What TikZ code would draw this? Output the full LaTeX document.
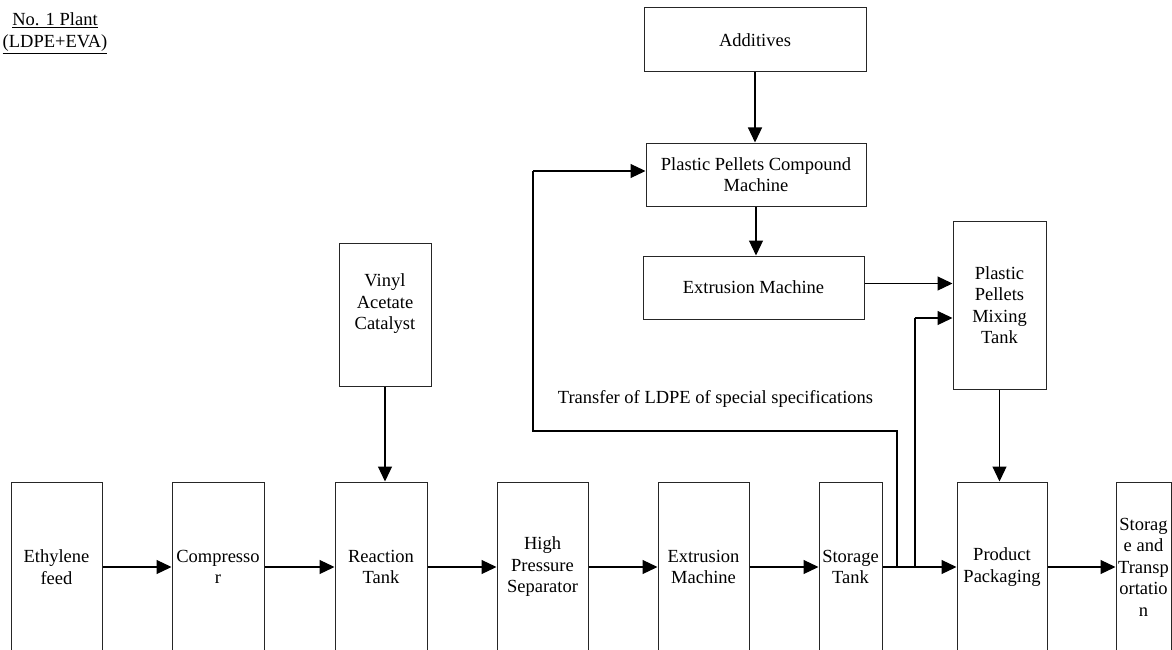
\documentclass[tikz,border=0pt]{standalone}
\usepackage{fontspec}
\setmainfont{Liberation Serif}
\usetikzlibrary{arrows.meta}
\begin{document}
\begin{tikzpicture}[x=1pt,y=-1pt,
  box/.style={draw=black!85, line width=1pt, inner sep=0pt, align=center,
    font=\fontsize{18.5}{21.5}\selectfont},
  tallbox/.style={box, minimum height=170pt},
  txt/.style={inner sep=0pt, align=center, font=\fontsize{18.5}{21.5}\selectfont},
  flow/.style={line width=1.2pt, -{Triangle[length=15pt,width=14pt]}},
  heavy/.style={line width=2pt}
]
\useasboundingbox (0,0) rectangle (1172,650);

% plant title
\node[txt, font=\fontsize{18.5}{22}\selectfont] (title) at (55,33)
  {\underline{No. 1 Plant}\\\underline{(LDPE+EVA)}};

% main production line
\node[tallbox, minimum width=91pt] (eth)   at (56.5,567)  {Ethylene\\feed};
\node[tallbox, minimum width=92pt] (comp)  at (218,567)   {Compresso\\r};
\node[tallbox, minimum width=92pt] (react) at (381,567)   {Reaction\\Tank};
\node[tallbox, minimum width=91pt] (hps)   at (542.5,567) {High\\Pressure\\Separator};
\node[tallbox, minimum width=91pt] (extr)  at (703.5,567) {Extrusion\\Machine};
\node[tallbox, minimum width=63pt] (stor)  at (850.5,567) {Storage\\Tank};
\node[tallbox, minimum width=90pt] (pack)  at (1002,567)  {Product\\Packaging};
\node[tallbox, minimum width=55pt] (trans) at (1143.5,567) {Storag\\e and\\Transp\\ortatio\\n};

% catalyst feed
\node[box, minimum width=92pt, minimum height=143pt] (vin) at (385,314.5) {};
\node[txt] (vintxt) at (385,304) {Vinyl\\Acetate\\Catalyst};

% compounding branch
\node[box, minimum width=222pt, minimum height=64pt] (add)  at (755,40)    {Additives};
\node[box, minimum width=220pt, minimum height=63pt] (cpd)  at (756,174.5) {Plastic Pellets Compound\\Machine};
\node[box, minimum width=221pt, minimum height=63pt] (ext2) at (753.5,287.5) {Extrusion Machine};
\node[box, minimum width=93pt, minimum height=168pt] (mix)  at (999.5,305) {Plastic\\Pellets\\Mixing\\Tank};

\node[txt] (note) at (715.5,399) {Transfer of LDPE of special specifications};

% main line connectors
\draw[flow] (eth)  -- (comp);
\draw[flow] (comp) -- (react);
\draw[flow] (react) -- (hps);
\draw[flow] (hps)  -- (extr);
\draw[flow] (extr) -- (stor);
\draw[flow] (stor) -- (pack);
\draw[flow] (pack) -- (trans);

\draw[flow] (vin.south) -- (vin.south |- react.north);
\draw[flow] (add.south) -- (add.south |- cpd.north);
\draw[flow] (cpd.south) -- (cpd.south |- ext2.north);
\draw[flow] ([yshift=4pt]ext2.east) -- ([yshift=4pt]ext2.east -| mix.west);
\draw[flow] (mix.south) -- (mix.south |- pack.north);

% take-offs after the storage tank
\coordinate (ja) at ([xshift=14pt]stor.east);
\coordinate (jb) at ([xshift=32pt]stor.east);
\draw[heavy] (ja) -- (ja |- 0,431) -- (533,431) coordinate (jd) -- (jd |- 0,171) coordinate (je);
\draw[flow] (je) -- (je -| cpd.west);
\draw[heavy] (jb) -- (jb |- 0,318) coordinate (jf);
\draw[flow] (jf) -- (jf -| mix.west);
\end{tikzpicture}
\end{document}
